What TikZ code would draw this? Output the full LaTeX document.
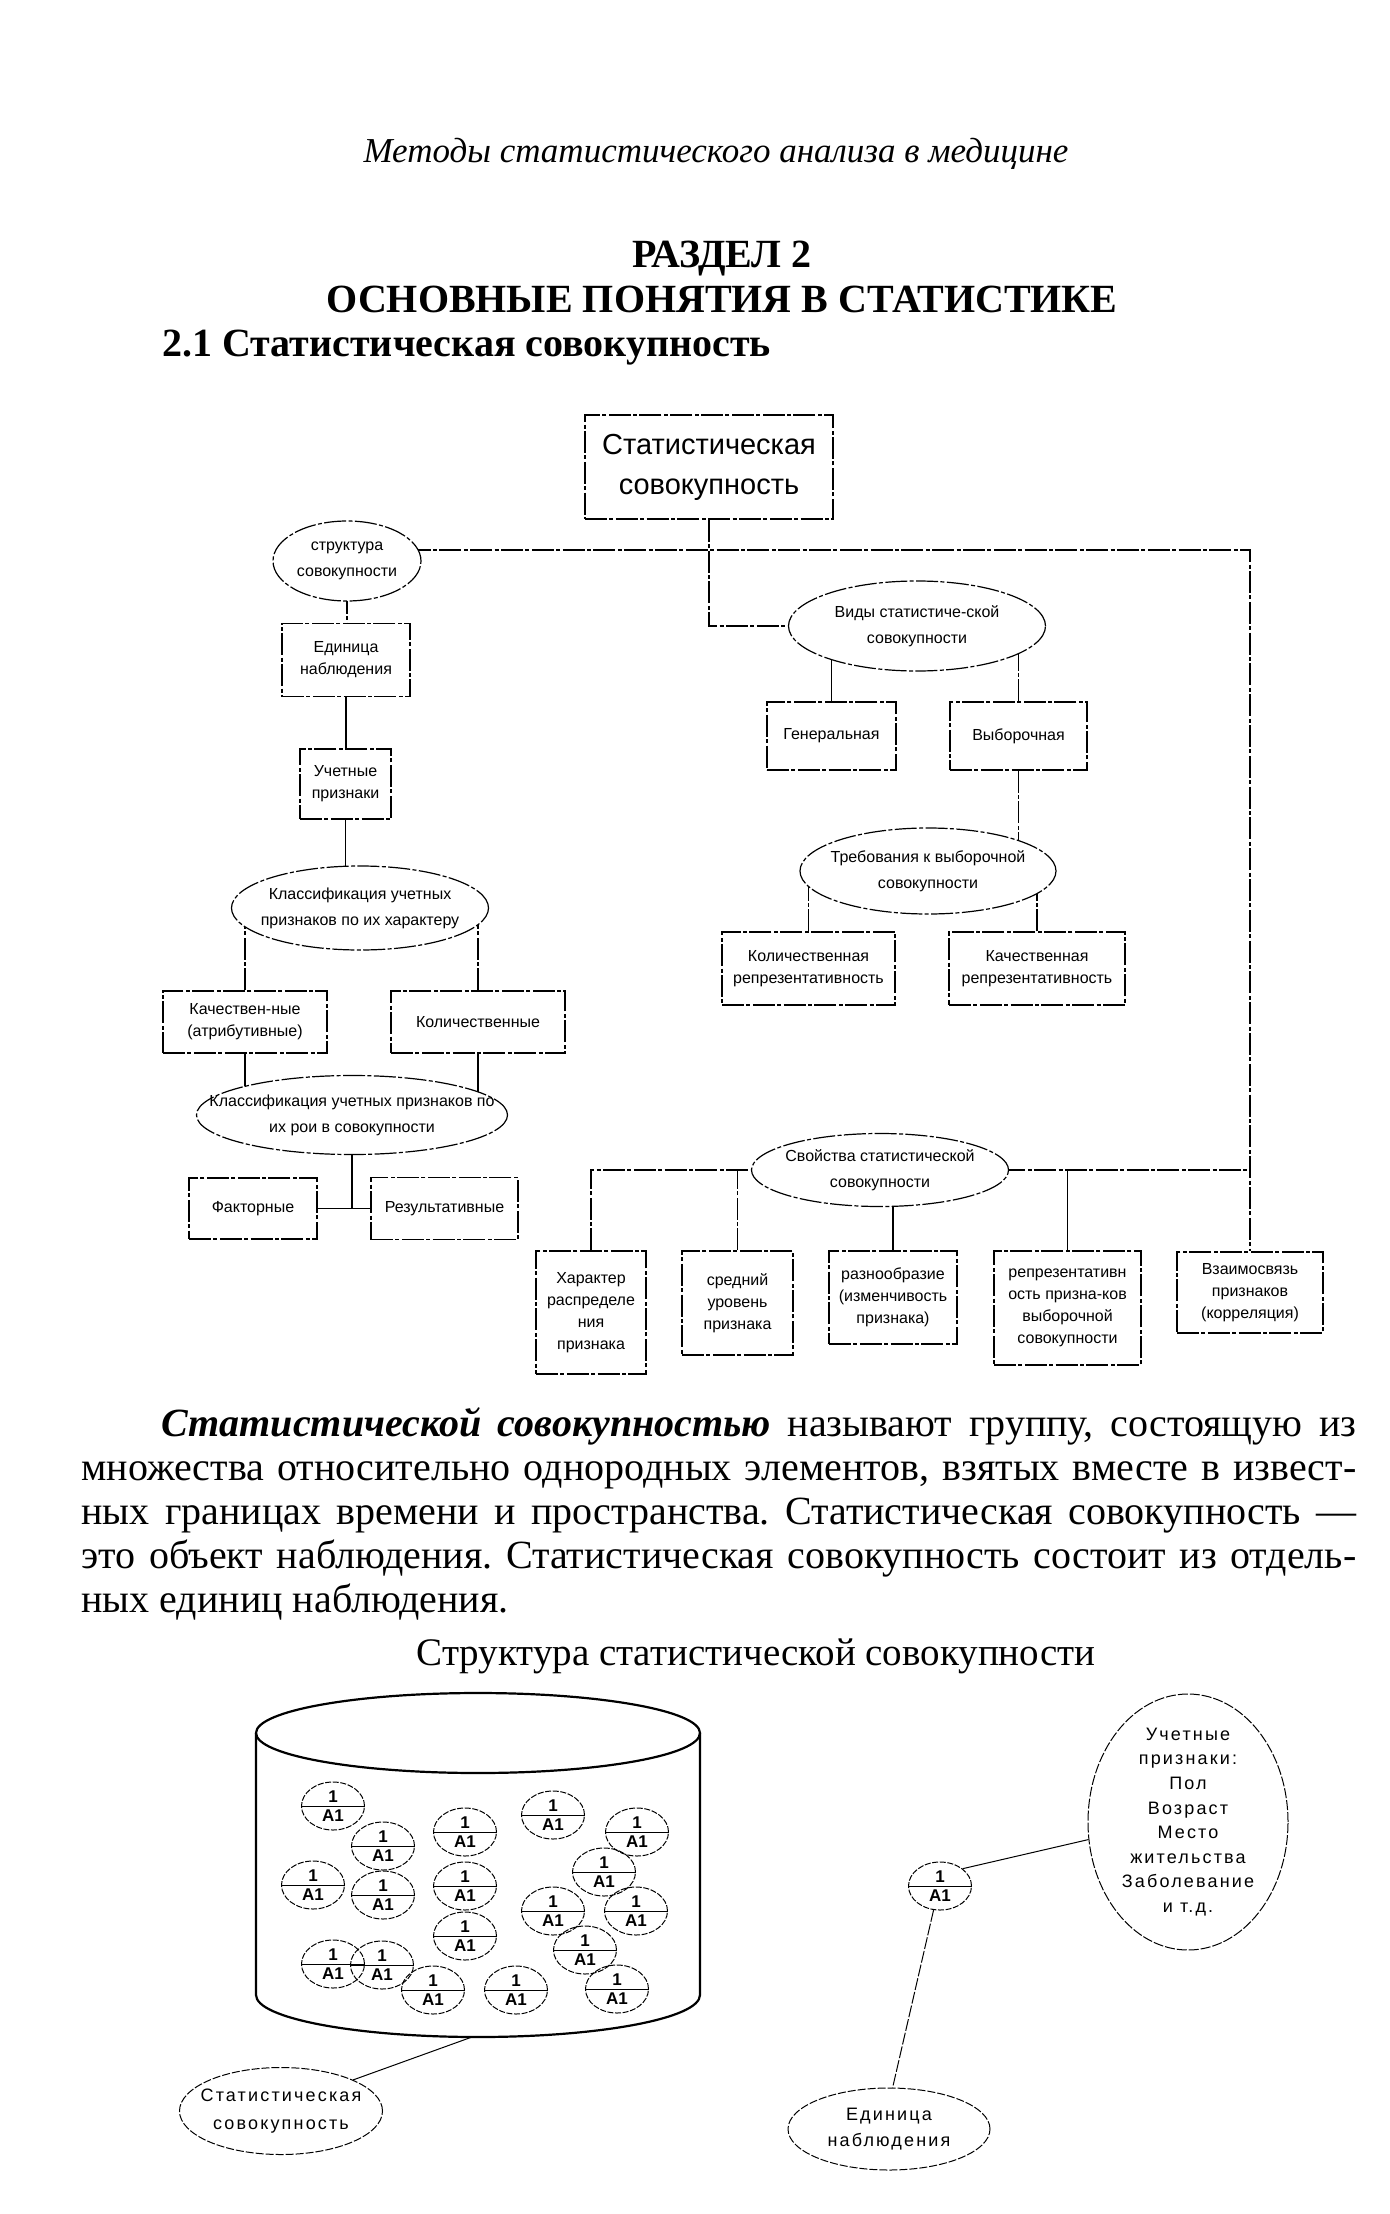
\documentclass[tikz,border=0pt]{standalone}
\usepackage{fontspec}
\setmainfont{Liberation Serif}
\setsansfont{Liberation Sans}
\newfontfamily\spacedsans[LetterSpace=12]{Liberation Sans}
\usetikzlibrary{shapes.geometric,backgrounds}
\frenchspacing

\newcommand\boxfont{\sffamily\fontsize{8}{11}\selectfont}
\newcommand\ovalfont{\sffamily\fontsize{8}{13}\selectfont}
\newcommand\unitfont{\sffamily\bfseries\fontsize{8.5}{9}\selectfont}
\newcommand\spacedlabel{\spacedsans\fontsize{9}{12.3}\selectfont}

\begin{document}
\begin{tikzpicture}[x=0.5pt,y=-0.5pt,
    link/.style={line width=0.6pt, dash pattern=on 11pt off 1.2pt on 2pt off 1.2pt},
    plain/.style={line width=0.6pt},
    boxnode/.style={draw, link, fill=white, inner sep=0pt, align=center, font=\boxfont},
    ovalnode/.style={ellipse, draw, link, fill=white, inner sep=0pt},
    ovaltext/.style={align=center, font=\ovalfont, inner sep=0pt},
    unitnode/.style={ellipse, draw, line width=0.5pt, dash pattern=on 3pt off 0.8pt,
        minimum width=31.5pt, minimum height=24pt, inner sep=0pt},
    unittext/.style={font=\unitfont, inner sep=0pt},
    textline/.style={inner sep=0pt, font=\fontsize{20}{22}\selectfont},
    cyl/.style={line width=1.1pt}]

    \useasboundingbox (0,0) rectangle (1389,2214);

    % Page heading
    \node[inner sep=0pt, anchor=base, font=\fontsize{17.5}{20}\selectfont\itshape] (runhead) at (716,163) {Методы статистического анализа в медицине};
    \node[inner sep=0pt, anchor=base, font=\fontsize{20}{24}\selectfont\bfseries] (part) at (722,268) {РАЗДЕЛ 2};
    \node[inner sep=0pt, anchor=base, font=\fontsize{20}{24}\selectfont\bfseries] (chap) at (722,313) {ОСНОВНЫЕ ПОНЯТИЯ В СТАТИСТИКЕ};
    \node[inner sep=0pt, anchor=base west, font=\fontsize{20}{24}\selectfont\bfseries] (sect) at (162,357) {2.1 Статистическая совокупность};

    % Scheme: root
    \node[boxnode, line width=0.8pt, minimum width=124pt, minimum height=52pt, font=\sffamily\fontsize{14.5}{20}\selectfont] (top) at (709,467) {Статистическая\\совокупность};

    % Left branch
    \node[ovalnode, minimum width=74pt, minimum height=40pt, label={[ovaltext, font=\sffamily\fontsize{8}{12.8}\selectfont]center:{структура\\совокупности}}] (struct) at (347,561) {};
    \node[boxnode, minimum width=64pt, minimum height=36.5pt] (edin) at (346,660) {Единица\\наблюдения};
    \node[boxnode, plain, minimum width=45.5pt, minimum height=35pt] (uch) at (345.5,784) {Учетные\\признаки};
    \node[ovalnode, minimum width=128.5pt, minimum height=42pt, label={[ovaltext]center:{Классификация учетных\\признаков по их характеру}}] (cls1) at (360,908) {};
    \node[boxnode, minimum width=82pt, minimum height=31pt] (qual) at (245,1022) {Качествен-ные\\(атрибутивные)};
    \node[boxnode, minimum width=87pt, minimum height=31pt] (quant) at (478,1022) {Количественные};
    \node[ovalnode, minimum width=155.5pt, minimum height=39.5pt, label={[ovaltext]center:{Классификация учетных признаков по\\их рои в совокупности}}] (cls2) at (352,1115) {};
    \node[boxnode, minimum width=64pt, minimum height=30.5pt] (fact) at (253,1208.5) {Факторные};
    \node[boxnode, minimum width=73.5pt, minimum height=31pt] (res) at (444.5,1208.5) {Результативные};

    % Right branch
    \node[ovalnode, minimum width=128.5pt, minimum height=45pt, label={[ovaltext]center:{Виды статистиче-ской\\совокупности}}] (vid) at (917,626) {};
    \node[boxnode, minimum width=64.5pt, minimum height=34pt] (gen) at (831.5,736) {Генеральная};
    \node[boxnode, minimum width=68.5pt, minimum height=34pt] (vyb) at (1018.5,736) {Выборочная};
    \node[ovalnode, minimum width=128pt, minimum height=43pt, label={[ovaltext]center:{Требования к выборочной\\совокупности}}] (treb) at (928,871) {};
    \node[boxnode, minimum width=86.5pt, minimum height=36.5pt] (kolrep) at (808.5,968.5) {Количественная\\репрезентативность};
    \node[boxnode, minimum width=88pt, minimum height=36.5pt] (kachrep) at (1037,968.5) {Качественная\\репрезентативность};

    % Properties
    \node[ovalnode, minimum width=128.5pt, minimum height=36.5pt, label={[ovaltext]center:{Свойства статистической\\совокупности}}] (svoj) at (880,1170) {};
    \node[boxnode, minimum width=55pt, minimum height=61.5pt] (har) at (591,1312.5) {Характер\\распределе\\ния\\признака};
    \node[boxnode, minimum width=55.5pt, minimum height=52pt] (sred) at (737.5,1303) {средний\\уровень\\признака};
    \node[boxnode, minimum width=64pt, minimum height=46.5pt] (raz) at (893,1297.5) {разнообразие\\(изменчивость\\признака)};
    \node[boxnode, minimum width=73.5pt, minimum height=57pt] (rep) at (1067.5,1308) {репрезентативн\\ость призна-ков\\выборочной\\совокупности};
    \node[boxnode, minimum width=73pt, minimum height=40.5pt] (vz) at (1250,1292.5) {Взаимосвязь\\признаков\\(корреляция)};

    \coordinate (topline) at (708,550);

    % Connectors, behind the shapes
    \begin{scope}[on background layer]
        \fill[white] (0,0) rectangle (1389,2214);
        \draw[link] (struct.center |- topline) -- (vz.north |- topline) -- (vz.north);
        \draw[link] (top.south) -- (top.south |- vid.center) -- (vid.center);
        \draw[link] (struct.center) -- (struct.center |- edin.north);
        \draw[plain] (edin.south) -- (edin.south |- uch.north);
        \draw[plain] (uch.south) -- (uch.south |- cls1.center);
        \draw[link] (qual.north) -- (qual.north |- cls1.center);
        \draw[link] (quant.north) -- (quant.north |- cls1.center);
        \draw[plain] (qual.south) -- (qual.south |- cls2.center);
        \draw[plain] (quant.south) -- (quant.south |- cls2.center);
        \draw[plain] (cls2.center) -- (cls2.center |- fact.east);
        \draw[plain] (fact.east) -- (fact.east -| res.west);
        \draw[plain] (gen.north) -- (gen.north |- vid.center);
        \draw[link] (vyb.north) -- (vyb.north |- vid.center);
        \draw[link] (vyb.south) -- (vyb.south |- treb.center);
        \draw[link] (kolrep.north) -- (kolrep.north |- treb.center);
        \draw[link] (kachrep.north) -- (kachrep.north |- treb.center);
        \draw[link] (har.north) -- (har.north |- svoj.center) -- (vz.north |- svoj.center);
        \draw[link] (sred.north) -- (sred.north |- svoj.center);
        \draw[plain] (raz.north) -- (raz.north |- svoj.center);
        \draw[plain] (rep.north) -- (rep.north |- svoj.center);
    \end{scope}

    % Text under the scheme
    \node[textline, anchor=base west] (p1) at (161,1436) {\makebox[597.5pt][s]{\textbf{\textit{Статистической совокупностью}} называют группу, состоящую из}};
    \node[textline, anchor=base west] (p2) at (81,1480) {\makebox[637.5pt][s]{множества относительно однородных элементов, взятых вместе в извест-}};
    \node[textline, anchor=base west] (p3) at (81,1524) {\makebox[637.5pt][s]{ных границах времени и пространства. Статистическая совокупность —}};
    \node[textline, anchor=base west] (p4) at (81,1568) {\makebox[637.5pt][s]{это объект наблюдения. Статистическая совокупность состоит из отдель-}};
    \node[textline, anchor=base west] (p5) at (81,1612) {ных единиц наблюдения.};
    \node[textline, anchor=base, font=\fontsize{19.5}{22}\selectfont] (capt) at (756,1665) {Структура статистической совокупности};

    % Cylinder with units
    \draw[cyl] (478,1733) ellipse [x radius=222, y radius=40];
    \draw[cyl] (256,1733) -- (256,1995) arc[start angle=180, end angle=0, x radius=222, y radius=42] -- (700,1733);
    \coordinate (cylbot) at (472,2037);
    \foreach \ux/\uy [count=\i] in {333/1806, 383/1846, 313/1885, 383/1895, 465/1832, 465/1886,
        465/1936, 333/1964, 382/1965, 433/1990, 516/1990, 553/1815, 637/1832, 604/1872,
        553/1911, 636/1911, 585/1950, 617/1989} {
        \node[unitnode] (u\i) at (\ux,\uy) {};
        \draw[line width=0.5pt] (u\i.west) -- (u\i.east);
        \node[unittext, anchor=south] (u\i top) at ([yshift=1.5pt]u\i.center) {1};
        \node[unittext, anchor=north] (u\i bot) at ([yshift=-1.5pt]u\i.center) {A1};
    }

    % Single unit and its labels
    \node[unitnode] (cell) at (940,1886) {};
    \draw[line width=0.5pt] (cell.west) -- (cell.east);
    \node[unittext, anchor=south] (celltop) at ([yshift=1.5pt]cell.center) {1};
    \node[unittext, anchor=north] (cellbot) at ([yshift=-1.5pt]cell.center) {A1};

    \node[ellipse, draw, line width=0.5pt, dash pattern=on 5pt off 1pt, minimum width=100pt, minimum height=128pt, inner sep=0pt,
        label={[align=center, inner sep=0pt, font=\spacedlabel]center:{Учетные\\признаки:\\Пол\\Возраст\\Место\\жительства\\Заболевание\\и т.д.}}] (feat) at (1188,1822) {};
    \node[ellipse, draw, line width=0.5pt, dash pattern=on 4pt off 1pt, minimum width=101.5pt, minimum height=43.5pt, inner sep=0pt,
        label={[align=center, inner sep=0pt, font=\spacedsans\fontsize{9}{14}\selectfont]center:{Статистическая\\совокупность}}] (popl) at (281,2111) {};
    \node[ellipse, draw, line width=0.5pt, dash pattern=on 4pt off 1pt, minimum width=101pt, minimum height=41pt, inner sep=0pt,
        label={[align=center, inner sep=0pt, font=\spacedsans\fontsize{9}{13}\selectfont]center:{Единица\\наблюдения}}] (unitlbl) at (889,2129) {};

    \draw[line width=0.5pt] (cylbot) -- (popl.north east);
    \draw[line width=0.5pt] (cell.north east) -- (feat.190);
    \draw[line width=0.5pt, dash pattern=on 6pt off 1pt] (cell.255) -- (unitlbl.85);
\end{tikzpicture}
\end{document}
